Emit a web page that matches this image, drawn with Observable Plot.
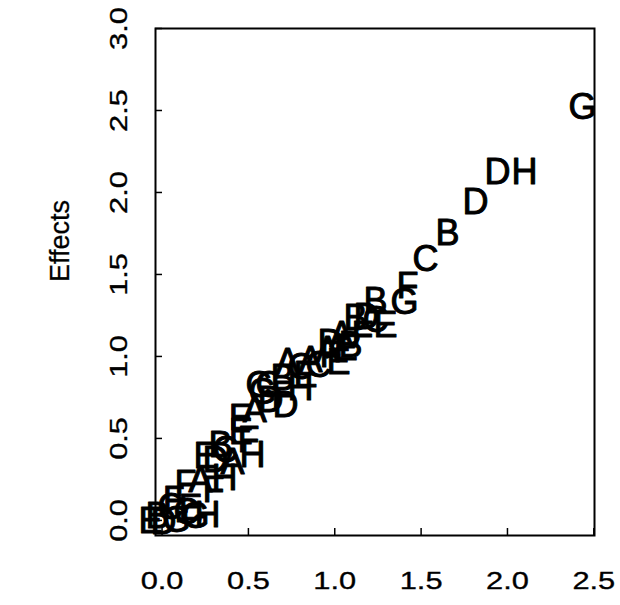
<!DOCTYPE html>
<html><head><meta charset="utf-8">
<script src="https://cdn.jsdelivr.net/npm/d3@7"></script>
<script src="https://cdn.jsdelivr.net/npm/@observablehq/plot@0.6"></script>
<style>
body{margin:0;background:#fff}
g[aria-label$="tick label"] text{stroke:black;stroke-width:0.3px}
</style>
</head><body><div id="chart"></div>
<script>
const labels = ["E","B","D","C","G","C","G","H","F","E",
                "F","A","H","F","E","C","D","H","F","E",
                "A","E","A","D","F","C","C","B","D","A",
                "C","E","A","C","A","E","F","B","E","A",
                "D","F","B","D","C","E","B","G","F","C",
                "B","D","D","H","G","H","G","B"];
const xs = [-0.067,-0.026,0.009,0.049,0.084,0.142,0.194,0.263,0.067,0.165,
            0.136,0.223,0.362,0.298,0.252,0.368,0.310,0.524,0.501,0.455,
            0.408,0.455,0.536,0.628,0.698,0.559,0.617,0.698,0.715,0.727,
            0.802,0.831,0.860,0.906,0.958,1.022,0.976,1.091,1.063,1.039,
            0.976,1.161,1.120,1.184,1.236,1.294,1.236,1.404,1.421,1.526,
            1.653,1.815,1.943,2.099,2.435,0.802,0.582,0.339];
const ys = [-0.006,0.024,-0.012,0.079,0.000,0.049,0.024,0.030,0.122,0.073,
            0.220,0.244,0.256,0.183,0.390,0.427,0.366,0.396,0.488,0.537,
            0.354,0.622,0.671,0.732,0.762,0.823,0.823,0.866,0.701,0.963,
            0.933,0.884,0.976,0.945,1.037,0.963,1.006,1.067,1.049,1.128,
            1.079,1.128,1.232,1.238,1.220,1.189,1.335,1.329,1.427,1.591,
            1.750,1.939,2.122,2.122,2.518,0.805,0.780,0.457];
const xTicks = [0, 0.5, 1, 1.5, 2, 2.5];
const yTicks = [0, 0.5, 1, 1.5, 2, 2.5, 3];
const yTitle = "Effects";

const data = labels.map((l, i) => ({label: l, x: xs[i], y: ys[i]}));
const chart = Plot.plot({
  width: 620, height: 605,
  marginLeft: 155, marginRight: 26, marginTop: 28, marginBottom: 70,
  style: {background: "white", fontFamily: "'Liberation Sans', Arial, sans-serif", fontSize: "22px", color: "black"},
  x: {domain: [-0.038, 2.504]},
  y: {domain: [-0.092, 3.0]},
  marks: [
    Plot.frame({stroke: "black", strokeWidth: 2}),
    Plot.text(data, {x: "x", y: "y", text: "label", fontSize: 36, fill: "black", stroke: "black", strokeWidth: 1}),
    Plot.axisX({ticks: xTicks, tickFormat: d3.format(".1f"), tickSize: -7, tickPadding: 44, label: null, strokeWidth: 1.5, fill: "black"}),
    Plot.axisY({ticks: yTicks, tickFormat: d3.format(".1f"), tickSize: -7, tickPadding: 36, tickRotate: -90, label: null, strokeWidth: 1.5, fill: "black"}),
    Plot.text([yTitle], {frameAnchor: "left", rotate: -90, dx: -95, fontSize: 27, fill: "black", stroke: "black", strokeWidth: 0.3})
  ]
});
document.getElementById("chart").appendChild(chart);

// widen the tick labels along their reading direction, as in the reference
const S = 1.4;
const svgNS = "http://www.w3.org/2000/svg";
chart.querySelectorAll('g[aria-label$="tick label"]').forEach(grp => {
  const isY = grp.getAttribute("aria-label").startsWith("y");
  [...grp.querySelectorAll("text")].forEach(t => {
    const parent = t.parentNode;
    const r = t.getBoundingClientRect();
    const inv = parent.getScreenCTM().inverse();
    const p = new DOMPoint(r.x + r.width / 2, r.y + r.height / 2).matrixTransform(inv);
    const w = document.createElementNS(svgNS, "g");
    w.setAttribute("transform", `translate(${p.x},${p.y}) scale(${isY ? 1.1 : S},${isY ? S : 1.05}) translate(${-p.x},${-p.y})`);
    parent.insertBefore(w, t);
    w.appendChild(t);
  });
});
</script>
</body></html>
